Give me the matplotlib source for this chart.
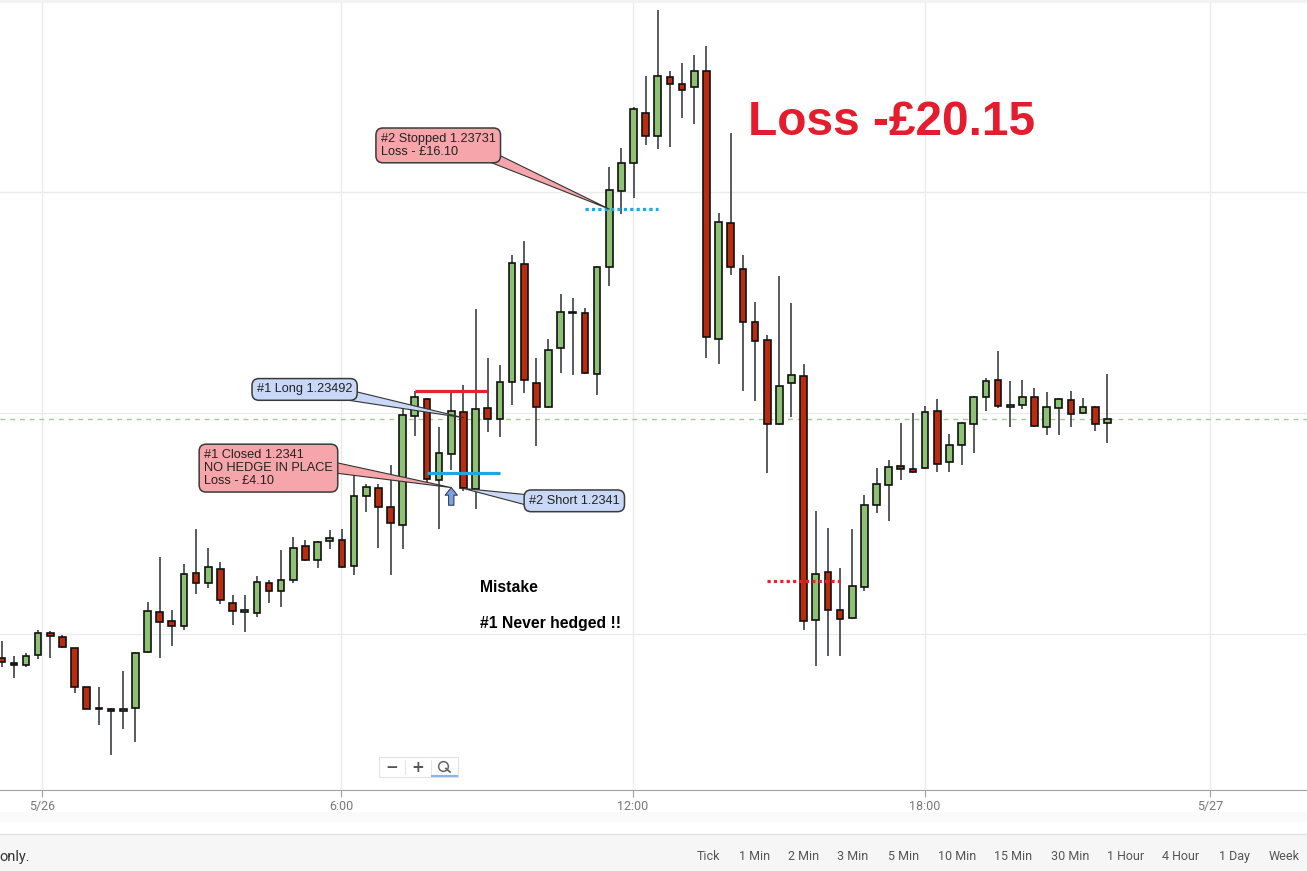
import matplotlib
matplotlib.use("Agg")
import matplotlib.pyplot as plt
from matplotlib.patches import Rectangle

# 15 minute candles, GBP/USD style prices
opens = [
    1.23223, 1.23218, 1.23215, 1.23227, 1.23252, 1.23247, 1.23234, 1.23190, 1.23165, 1.23166,
    1.23163, 1.23167, 1.23230, 1.23275, 1.23265, 1.23259, 1.23319, 1.23308, 1.23324, 1.23286,
    1.23275, 1.23274, 1.23308, 1.23299, 1.23311, 1.23350, 1.23334, 1.23356, 1.23357, 1.23327,
    1.23407, 1.23416, 1.23394, 1.23374, 1.23497, 1.23516, 1.23424, 1.23454, 1.23502, 1.23414,
    1.23506, 1.23494, 1.23535, 1.23669, 1.23534, 1.23507, 1.23574, 1.23613, 1.23613, 1.23545,
    1.23666, 1.23751, 1.23783, 1.23840, 1.23814, 1.23880, 1.23873, 1.23869, 1.23887, 1.23584,
    1.23715, 1.23663, 1.23603, 1.23583, 1.23488, 1.23534, 1.23542, 1.23266, 1.23320, 1.23277,
    1.23268, 1.23304, 1.23396, 1.23419, 1.23440, 1.23437, 1.23438, 1.23503, 1.23445, 1.23464,
    1.23488, 1.23519, 1.23538, 1.23507, 1.23509, 1.23519, 1.23485, 1.23506, 1.23515, 1.23500,
    1.23507, 1.23489]
highs = [
    1.23242, 1.23226, 1.23229, 1.23255, 1.23254, 1.23249, 1.23235, 1.23191, 1.23190, 1.23167,
    1.23209, 1.23230, 1.23287, 1.23337, 1.23277, 1.23329, 1.23369, 1.23348, 1.23332, 1.23294,
    1.23294, 1.23316, 1.23311, 1.23345, 1.23360, 1.23357, 1.23356, 1.23368, 1.23369, 1.23431,
    1.23420, 1.23420, 1.23441, 1.23506, 1.23525, 1.23517, 1.23484, 1.23523, 1.23532, 1.23618,
    1.23563, 1.23555, 1.23679, 1.23695, 1.23562, 1.23584, 1.23635, 1.23630, 1.23619, 1.23667,
    1.23779, 1.23800, 1.23846, 1.23882, 1.23956, 1.23887, 1.23896, 1.23905, 1.23915, 1.23726,
    1.23817, 1.23679, 1.23626, 1.23588, 1.23655, 1.23625, 1.23556, 1.23389, 1.23370, 1.23325,
    1.23369, 1.23408, 1.23438, 1.23447, 1.23489, 1.23500, 1.23508, 1.23516, 1.23477, 1.23490,
    1.23520, 1.23540, 1.23570, 1.23536, 1.23538, 1.23529, 1.23524, 1.23517, 1.23525, 1.23517,
    1.23508, 1.23545]
lows = [
    1.23213, 1.23201, 1.23213, 1.23222, 1.23223, 1.23235, 1.23184, 1.23165, 1.23148, 1.23113,
    1.23143, 1.23128, 1.23229, 1.23223, 1.23237, 1.23255, 1.23296, 1.23302, 1.23284, 1.23261,
    1.23253, 1.23270, 1.23286, 1.23281, 1.23308, 1.23333, 1.23325, 1.23346, 1.23325, 1.23317,
    1.23388, 1.23348, 1.23317, 1.23346, 1.23474, 1.23420, 1.23369, 1.23436, 1.23412, 1.23392,
    1.23479, 1.23473, 1.23509, 1.23523, 1.23463, 1.23506, 1.23546, 1.23543, 1.23545, 1.23521,
    1.23644, 1.23725, 1.23743, 1.23803, 1.23799, 1.23801, 1.23834, 1.23827, 1.23563, 1.23556,
    1.23656, 1.23525, 1.23514, 1.23433, 1.23487, 1.23496, 1.23255, 1.23214, 1.23225, 1.23226,
    1.23267, 1.23299, 1.23387, 1.23378, 1.23424, 1.23433, 1.23437, 1.23434, 1.23434, 1.23441,
    1.23455, 1.23503, 1.23506, 1.23485, 1.23505, 1.23485, 1.23476, 1.23475, 1.23485, 1.23499,
    1.23480, 1.23466]
closes = [
    1.23219, 1.23215, 1.23226, 1.23251, 1.23248, 1.23236, 1.23190, 1.23166, 1.23167, 1.23163,
    1.23165, 1.23229, 1.23276, 1.23264, 1.23260, 1.23318, 1.23308, 1.23326, 1.23289, 1.23276,
    1.23275, 1.23309, 1.23299, 1.23311, 1.23348, 1.23334, 1.23355, 1.23359, 1.23326, 1.23406,
    1.23417, 1.23394, 1.23376, 1.23498, 1.23518, 1.23426, 1.23455, 1.23503, 1.23415, 1.23505,
    1.23494, 1.23535, 1.23670, 1.23538, 1.23507, 1.23572, 1.23615, 1.23615, 1.23546, 1.23666,
    1.23752, 1.23783, 1.23844, 1.23814, 1.23882, 1.23872, 1.23866, 1.23887, 1.23586, 1.23716,
    1.23666, 1.23603, 1.23582, 1.23488, 1.23531, 1.23543, 1.23265, 1.23318, 1.23277, 1.23267,
    1.23305, 1.23396, 1.23420, 1.23439, 1.23437, 1.23434, 1.23502, 1.23443, 1.23464, 1.23489,
    1.23518, 1.23537, 1.23508, 1.23508, 1.23518, 1.23486, 1.23507, 1.23516, 1.23499, 1.23507,
    1.23488, 1.23493]

tick_pos = [3.32, 27.93, 51.96, 75.99, 99.45]
tick_labels = ["5/26", "6:00", "12:00", "18:00", "5/27"]
grid_prices = [1.2325, 1.2350, 1.2375]
last_price = closes[-1]

# trade levels (start candle, end candle, price)
red_level = (34, 40, 1.23525)
blue_level = (35, 41, 1.23433)
stop_level = (48, 54, 1.23731)
low_level = (63, 69, 1.23310)

GREEN = "#8dc174"
RED = "#b92c10"
PINK = "#f6a5ab"
BLUE = "#c9d8f6"

W, H = 1307, 871
fig = plt.figure(figsize=(W / 100, H / 100), dpi=100)
fig.patch.set_facecolor("white")

def fx(x):
    return x / W

def fy(y):
    return 1 - y / H

ax = fig.add_axes([0, fy(790), 1, (790 - 3) / H])
ax.set_xlim(-0.14, 107.43)
ax.set_ylim(1.2307395, 1.2396405)

# grid
for p in grid_prices:
    ax.axhline(p, color="#ebebeb", lw=1, zorder=0)
for t in tick_pos:
    ax.axvline(t, color="#ebebeb", lw=1, zorder=0)
ax.axhline(last_price, color="#a3cc92", lw=1, dashes=(3.5, 3.5), zorder=1)

# candles
idx = list(range(len(opens)))
up = [c >= o for o, c in zip(opens, closes)]
ax.vlines(idx, lows, highs, color="#2b3033", lw=1.1, zorder=2)
bottoms = [min(o, c) for o, c in zip(opens, closes)]
heights = [max(abs(c - o), 0.00002) for o, c in zip(opens, closes)]
colors = [GREEN if u else RED for u in up]
ax.bar(idx, heights, bottom=bottoms, width=0.55, color=colors,
       edgecolor="#111111", linewidth=1.2, zorder=3)

# level lines
ax.hlines(red_level[2], red_level[0], red_level[1], color="#e8212e", lw=2.3, zorder=4)
ax.hlines(blue_level[2], blue_level[0], blue_level[1], color="#1ea7e1", lw=2.3, zorder=4)
ax.hlines(stop_level[2], stop_level[0], stop_level[1], color="#1ea7e1", lw=2.3,
          linestyles=(0, (1, 1)), zorder=4)
ax.hlines(low_level[2], low_level[0], low_level[1], color="#e8212e", lw=2.3,
          linestyles=(0, (1, 1)), zorder=4)

# callouts
def callout(text, xy, xytext, fc, relpos):
    ax.annotate(text, xy=xy, xytext=xytext, ha="left", va="center",
                fontsize=9.2, family="Liberation Sans", color="#222222",
                linespacing=1.12, zorder=6,
                bbox=dict(boxstyle="round,pad=0.38,rounding_size=0.55",
                          fc=fc, ec="#3a3a3a", lw=1.1),
                arrowprops=dict(arrowstyle="wedge,tail_width=0.55,shrink_factor=0.5",
                                fc=fc, ec="#333333", lw=0.8, relpos=relpos,
                                patchA=None, shrinkA=0, shrinkB=0,
                                mutation_scale=14))

callout("#1 Long 1.23492", (38, 1.23495), (21.0, 1.23527), BLUE, (0.9, 0.12))
callout("#1 Closed 1.2341\nNO HEDGE IN PLACE\nLoss - \u00a34.10", (37, 1.23416),
        (16.65, 1.23438), PINK, (1.0, 0.52))
callout("#2 Short 1.2341", (38, 1.23415), (43.4, 1.23401), BLUE, (0.0, 0.55))
callout("#2 Stopped 1.23731\nLoss - \u00a316.10", (50, 1.23731), (31.2, 1.23803),
        PINK, (0.93, 0.1))

# entry arrow
ax.annotate("", xy=(37, 1.23416), xytext=(37, 1.23396),
            arrowprops=dict(arrowstyle="simple,head_length=0.5,head_width=0.8,tail_width=0.35",
                            fc="#7da2e3", ec="#33415c", lw=0.8, shrinkA=0, shrinkB=0,
                            mutation_scale=11), zorder=6)

ax.text(61.42, 1.23815, "Loss -\u00a320.15", color="#e51c2d", fontsize=34.5,
        fontweight="bold", family="Liberation Sans", va="baseline", ha="left", zorder=6)
ax.text(39.37, 1.23303, "Mistake", fontsize=11.3, fontweight="bold",
        family="Liberation Sans", va="center", ha="left")
ax.text(39.37, 1.23262, "#1 Never hedged !!", fontsize=11.3, fontweight="bold",
        family="Liberation Sans", va="center", ha="left")

# axes styling
for s in ["top", "left"]:
    ax.spines[s].set_visible(False)
ax.spines["bottom"].set_color("#a0a0a0")
ax.spines["right"].set_color("#dddddd")
ax.set_yticks([])
ax.set_xticks(tick_pos)
ax.set_xticklabels(tick_labels)
ax.tick_params(axis="x", length=5, color="#a0a0a0", pad=2, labelsize=9,
               labelcolor="#777777")
for lab in ax.get_xticklabels():
    lab.set_family("Roboto")

# top strip
fig.patches.append(Rectangle((0, fy(3)), 1, 3 / H, transform=fig.transFigure,
                             fc="#f2f2f2", ec="none"))

# zoom buttons
fig.patches.append(Rectangle((fx(379), fy(777)), 79 / W, 20 / H, transform=fig.transFigure,
                             fc="white", ec="#e2e2e2", lw=0.8))
for xd in [405, 431]:
    fig.add_artist(plt.Line2D([fx(xd), fx(xd)], [fy(760), fy(774)], color="#e6e6e6", lw=0.8))
fig.text(fx(392), fy(767), "\u2212", ha="center", va="center", fontsize=11,
         color="#555555", fontweight="bold")
fig.text(fx(418), fy(767), "+", ha="center", va="center", fontsize=11,
         color="#555555", fontweight="bold")
fig.add_artist(plt.Line2D([fx(443)], [fy(765.5)], marker="o", ms=7, mfc="none",
                          mec="#666666", mew=1.1))
fig.add_artist(plt.Line2D([fx(446), fx(450)], [fy(768.5), fy(772)], color="#666666", lw=1.3))
fig.add_artist(plt.Line2D([fx(432), fx(457)], [fy(775.5), fy(775.5)], color="#8ab4ea", lw=1.5))

# footer bar
fig.patches.append(Rectangle((0, fy(822)), 1, 10 / H, transform=fig.transFigure,
                             fc="#fafafa", ec="none"))
fig.patches.append(Rectangle((0, 0), 1, fy(834), transform=fig.transFigure,
                             fc="#f6f6f6", ec="none"))
fig.add_artist(plt.Line2D([0, 1], [fy(834), fy(834)], color="#e2e2e2", lw=1))
fig.text(fx(-1), fy(857), "only.", ha="left", va="center", fontsize=10.5,
         color="#333333", family="Roboto")

buttons = ["Tick", "1 Min", "2 Min", "3 Min", "5 Min", "10 Min", "15 Min",
           "30 Min", "1 Hour", "4 Hour", "1 Day", "Week"]
button_x = [708, 755, 804, 853, 904, 957, 1013, 1070, 1126, 1181, 1234, 1284]
for b, bx in zip(buttons, button_x):
    fig.text(fx(bx), fy(856), b, ha="center", va="center", fontsize=9,
             color="#555555", family="Roboto")

fig.savefig("out.png", dpi=100)
